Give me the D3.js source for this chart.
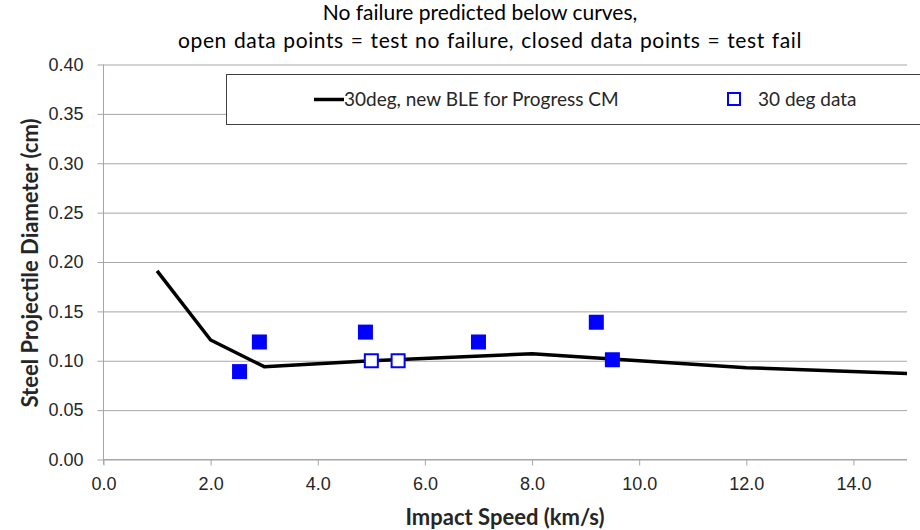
<!DOCTYPE html>
<html>
<head>
<meta charset="utf-8">
<script src="https://cdn.jsdelivr.net/npm/d3@7"></script>
<style>
  body { margin: 0; background: #fff; }
  svg { display: block; font-family: Lato, "Open Sans", sans-serif; }
</style>
</head>
<body>
<div id="chart"></div>
<script>
// curve: 30deg, new BLE for Progress CM
let curveSpeed = [1, 2, 3, 5, 8, 10, 12, 15];
let curveDiam = [0.191, 0.121, 0.094, 0.100, 0.107, 0.100, 0.093, 0.087];

// test data, closed = failed, open = no failure
let failSpeed = [2.54, 2.91, 4.89, 7.0, 9.2, 9.5];
let failDiam = [0.089, 0.119, 0.129, 0.119, 0.139, 0.101];
let passSpeed = [5.0, 5.5];
let passDiam = [0.100, 0.100];

let xTicks = [0, 2, 4, 6, 8, 10, 12, 14];
let yTicks = [0, 0.05, 0.10, 0.15, 0.20, 0.25, 0.30, 0.35, 0.40];

let subtitle = ["No failure predicted below curves,",
  "open data points = test no failure, closed data points = test fail"];
let legendNames = ["30deg, new BLE for Progress CM", "30 deg data"];

const W = 920, H = 530;
const plot = { left: 103.5, right: 907, top: 64.5, bottom: 459.5 };
const gridColor = "#a6a6a6";
const textColor = "#262626";
const blue = "#0000ff";

let svg = d3.select("#chart")
  .append("svg")
  .attr("width", W)
  .attr("height", H);

let x = d3.scaleLinear().domain([0, 15]).range([plot.left, plot.right]);
let y = d3.scaleLinear().domain([0, 0.40]).range([plot.bottom, plot.top]);

/* ------------------ gridlines + axes ------------------ */
let yAxis = d3.axisLeft(y)
  .tickValues(yTicks)
  .tickSize(-(plot.right - plot.left))
  .tickPadding(20)
  .tickFormat(d3.format(".2f"));

let gy = svg.append("g")
  .attr("transform", "translate(" + plot.left + ",0)")
  .call(yAxis);
gy.select(".domain").remove();
gy.selectAll(".tick line")
  .attr("x1", -6)
  .attr("stroke", gridColor);
gy.selectAll(".tick text")
  .attr("fill", textColor)
  .style("font-size", "18px");

let xAxis = d3.axisBottom(x)
  .tickValues(xTicks)
  .tickSize(6)
  .tickPadding(12)
  .tickFormat(d3.format(".1f"));

let gx = svg.append("g")
  .attr("transform", "translate(0," + plot.bottom + ")")
  .call(xAxis);
gx.select(".domain")
  .attr("stroke", gridColor)
  .attr("d", "M" + plot.left + ",0H" + plot.right);
gx.selectAll(".tick line").attr("stroke", gridColor);
gx.selectAll(".tick text")
  .attr("fill", textColor)
  .style("font-size", "18px");

// y axis line (vertical)
svg.append("line")
  .attr("x1", plot.left).attr("x2", plot.left)
  .attr("y1", plot.top).attr("y2", plot.bottom + 5)
  .attr("stroke", gridColor);

/* ------------------ curve ------------------ */
let curve = curveSpeed.map((s, i) => [s, curveDiam[i]]);
let line = d3.line()
  .x(d => x(d[0]))
  .y(d => y(d[1]));

svg.append("path")
  .datum(curve)
  .attr("d", line)
  .attr("fill", "none")
  .attr("stroke", "#000")
  .attr("stroke-width", 3.5)
  .attr("stroke-linejoin", "round");

/* ------------------ squares ------------------ */
let sq = 15;
let fails = failSpeed.map((s, i) => [s, failDiam[i]]);
let passes = passSpeed.map((s, i) => [s, passDiam[i]]);

svg.append("g").selectAll("rect")
  .data(fails)
  .enter()
  .append("rect")
  .attr("x", d => x(d[0]) - sq / 2)
  .attr("y", d => y(d[1]) - sq / 2)
  .attr("width", sq)
  .attr("height", sq)
  .attr("fill", blue);

svg.append("g").selectAll("rect")
  .data(passes)
  .enter()
  .append("rect")
  .attr("x", d => x(d[0]) - (sq - 2) / 2)
  .attr("y", d => y(d[1]) - (sq - 2) / 2)
  .attr("width", sq - 2)
  .attr("height", sq - 2)
  .attr("fill", "#fff")
  .attr("stroke", blue)
  .attr("stroke-width", 2);

/* ------------------ legend ------------------ */
let lg = svg.append("g");
lg.append("rect")
  .attr("x", 226.5).attr("y", 74.5)
  .attr("width", 720).attr("height", 50)
  .attr("fill", "#fff")
  .attr("stroke", "#404040");
lg.append("line")
  .attr("x1", 314).attr("x2", 344)
  .attr("y1", 99.5).attr("y2", 99.5)
  .attr("stroke", "#000")
  .attr("stroke-width", 3.5);
lg.append("text")
  .attr("x", 344).attr("y", 106)
  .attr("fill", textColor)
  .style("font-size", "19px")
  .text(legendNames[0]);
lg.append("rect")
  .attr("x", 728).attr("y", 93)
  .attr("width", 12).attr("height", 12)
  .attr("fill", "#fff")
  .attr("stroke", blue)
  .attr("stroke-width", 2);
lg.append("text")
  .attr("x", 758).attr("y", 106)
  .attr("fill", textColor)
  .style("font-size", "19px")
  .text(legendNames[1]);

/* ------------------ titles ------------------ */
svg.append("text")
  .attr("x", 480).attr("y", 20)
  .attr("text-anchor", "middle")
  .attr("fill", "#000")
  .style("font-size", "21px")
  .text(subtitle[0]);
svg.append("text")
  .attr("x", 490).attr("y", 48)
  .attr("text-anchor", "middle")
  .attr("fill", "#000")
  .style("font-size", "21px")
  .style("letter-spacing", "0.6px")
  .style("word-spacing", "1px")
  .text(subtitle[1]);

svg.append("text")
  .attr("x", 505).attr("y", 525)
  .attr("text-anchor", "middle")
  .attr("fill", textColor)
  .style("font-size", "22px")
  .style("font-weight", "bold")
  .text("Impact Speed (km/s)");

svg.append("text")
  .attr("transform", "translate(38,263) rotate(-90)")
  .attr("text-anchor", "middle")
  .attr("fill", textColor)
  .style("font-size", "22px")
  .style("font-weight", "bold")
  .text("Steel Projectile Diameter (cm)");
</script>
</body>
</html>
